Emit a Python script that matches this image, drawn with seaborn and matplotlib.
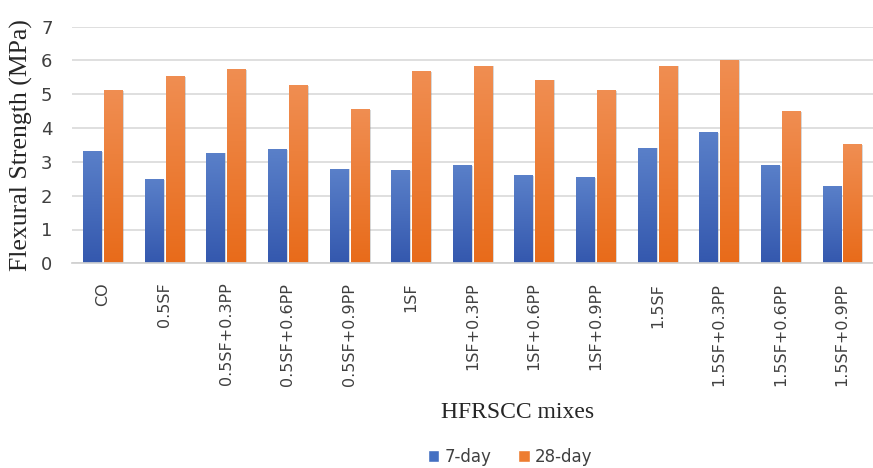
import numpy as np
import pandas as pd
import matplotlib
matplotlib.use("Agg")
import matplotlib.pyplot as plt
from matplotlib.patches import Patch
from matplotlib.colors import LinearSegmentedColormap
import seaborn as sns

mixes = ["CO", "0.5SF", "0.5SF+0.3PP", "0.5SF+0.6PP", "0.5SF+0.9PP", "1SF",
         "1SF+0.3PP", "1SF+0.6PP", "1SF+0.9PP", "1.5SF", "1.5SF+0.3PP",
         "1.5SF+0.6PP", "1.5SF+0.9PP"]
day7 = [3.32, 2.49, 3.27, 3.37, 2.80, 2.76, 2.91, 2.60, 2.54, 3.42, 3.88, 2.91, 2.30]
day28 = [5.13, 5.54, 5.75, 5.28, 4.57, 5.69, 5.85, 5.43, 5.13, 5.85, 6.00, 4.51, 3.52]
ages = ["7-day", "28-day"]
yticks = [0, 1, 2, 3, 4, 5, 6, 7]

df = pd.DataFrame({
    "mix": mixes * 2,
    "age": [ages[0]] * len(mixes) + [ages[1]] * len(mixes),
    "strength": day7 + day28,
})

sns.set_theme(style="white")
plt.rcParams["font.family"] = ["DejaVu Sans"]

blue, orange = "#4470C2", "#ED7D31"
fig = plt.figure(figsize=(8.73, 4.68), dpi=100)
ax = fig.add_axes([72 / 873, 1 - 263.3 / 468, 1 - 72 / 873, (263.3 - 26.7) / 468])

sns.barplot(data=df, x="mix", y="strength", hue="age", order=mixes,
            hue_order=ages, palette=[blue, orange], width=0.68, gap=0.12,
            ax=ax, legend=False, zorder=3, linewidth=0)

# soft vertical gradient inside each bar
grads = {
    blue: LinearSegmentedColormap.from_list("b", ["#3458AE", "#5A80C9"]),
    orange: LinearSegmentedColormap.from_list("o", ["#E86B1A", "#F08E52"]),
}
grad = np.linspace(0, 1, 256).reshape(-1, 1)
n = len(mixes)
for i, bar in enumerate(list(ax.patches)):
    col = blue if i < n else orange
    x0, w, h = bar.get_x(), bar.get_width(), bar.get_height()
    # faint drop shadow on the right side
    ax.bar(x0 + w / 2 + 0.025, h, width=w, bottom=-0.02, color="#808080",
           alpha=0.3, zorder=2.5, linewidth=0, align="center")
    im = ax.imshow(grad, cmap=grads[col], aspect="auto", origin="lower",
                   extent=(x0, x0 + w, 0, h), zorder=3.5)
    im.set_clip_path(bar)

ax.set_xlim(-0.5, n - 0.5)
ax.set_ylim(0, 7)
ax.set_yticks(yticks)
ax.set_yticklabels([str(t) for t in yticks], fontsize=13, color="#404040")
ax.tick_params(axis="y", length=0, pad=14)
ax.tick_params(axis="x", length=0, pad=14)
ax.set_xticks(range(n))
ax.set_xticklabels(mixes, rotation=90, fontsize=11.5, color="#404040", va="top")
ax.yaxis.grid(True, color="#D9D9D9", linewidth=1.2, zorder=0)
ax.set_axisbelow(True)
for s in ["top", "right", "left"]:
    ax.spines[s].set_visible(False)
ax.spines["bottom"].set_color("#D0D0D0")
ax.spines["bottom"].set_zorder(4)
ax.set_xlabel("")
ax.set_ylabel("Flexural Strength (MPa)", family="Liberation Serif",
              fontsize=18.5, color="#262626", labelpad=6)

fig.text(518 / 873, 1 - 413 / 468, "HFRSCC mixes", family="Liberation Serif",
         fontsize=17, color="#262626", ha="center", va="center")

handles = [Patch(facecolor=blue, label=ages[0]), Patch(facecolor=orange, label=ages[1])]
fig.legend(handles=handles, loc="center", bbox_to_anchor=(510 / 873, 1 - 457 / 468),
           ncol=2, frameon=False, fontsize=12, handlelength=0.7, handleheight=0.7,
           handletextpad=0.3, columnspacing=1.6, labelcolor="#404040")

fig.savefig("out.png", dpi=100)
